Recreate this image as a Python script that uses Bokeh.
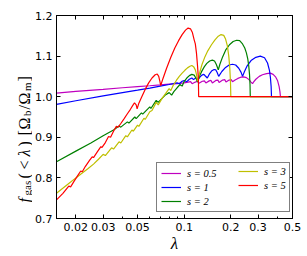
import math
from bokeh.plotting import figure
from bokeh.layouts import row
from bokeh.models import (FixedTicker, LinearAxis, LogAxis, Legend, LegendItem)
from bokeh.core.properties import value
from bokeh.embed import file_html
from bokeh.resources import INLINE

# ---------------- data ----------------
x_ticks = [0.02, 0.03, 0.05, 0.1, 0.2, 0.3, 0.5]
x_tick_labels = ["0.02", "0.03", "0.05", "0.1", "0.2", "0.3", "0.5"]
x_minor = [0.04, 0.06, 0.07, 0.08, 0.09, 0.4]
y_ticks = [0.7, 0.8, 0.9, 1.0, 1.1, 1.2]
y_tick_labels = ["0.7", "0.8", "0.9", "1.0", "1.1", "1.2"]
x_title = "λ"

series_labels = ["s = 0.5", "s = 1", "s = 2", "s = 3", "s = 5"]

lam_s05 = [0.015, 0.02, 0.03, 0.04, 0.05, 0.06, 0.07, 0.08, 0.09, 0.1,
           0.106, 0.11, 0.1125, 0.118, 0.122, 0.1245, 0.131, 0.135, 0.138, 0.145,
           0.149, 0.152, 0.16, 0.165, 0.168, 0.177, 0.183, 0.186, 0.195, 0.201,
           0.205, 0.213, 0.222, 0.232, 0.242, 0.252, 0.262, 0.27, 0.276, 0.28,
           0.29, 0.305, 0.32, 0.34, 0.36, 0.375, 0.39, 0.4, 0.41, 0.415,
           0.418, 0.5]
f_s05 = [1.009, 1.013, 1.018, 1.022, 1.025, 1.027, 1.029, 1.031, 1.032, 1.034,
         1.036, 1.037, 1.032, 1.036, 1.038, 1.033, 1.038, 1.039, 1.034, 1.039,
         1.040, 1.034, 1.040, 1.041, 1.035, 1.041, 1.042, 1.036, 1.041, 1.042,
         1.037, 1.041, 1.045, 1.048, 1.049, 1.047, 1.042, 1.036, 1.032, 1.036,
         1.043, 1.050, 1.054, 1.057, 1.058, 1.055, 1.048, 1.040, 1.025, 1.012,
         1.0, 1.0]

lam_s1 = [0.015, 0.02, 0.03, 0.04, 0.05, 0.06, 0.07, 0.08, 0.085, 0.09,
          0.093, 0.097, 0.1, 0.104, 0.108, 0.112, 0.115, 0.119, 0.122, 0.126,
          0.13, 0.134, 0.137, 0.141, 0.146, 0.151, 0.156, 0.16, 0.163, 0.167,
          0.175, 0.185, 0.195, 0.205, 0.215, 0.225, 0.233, 0.238, 0.245, 0.255,
          0.27, 0.29, 0.31, 0.33, 0.345, 0.355, 0.36, 0.364, 0.366, 0.5]
f_s1 = [0.981, 0.990, 1.002, 1.010, 1.016, 1.021, 1.026, 1.030, 1.032, 1.034,
        1.032, 1.038, 1.040, 1.037, 1.043, 1.046, 1.042, 1.047, 1.040, 1.048,
        1.053, 1.055, 1.051, 1.046, 1.057, 1.064, 1.067, 1.066, 1.060, 1.050,
        1.062, 1.072, 1.078, 1.080, 1.078, 1.070, 1.060, 1.050, 1.062, 1.076,
        1.089, 1.097, 1.100, 1.096, 1.083, 1.065, 1.048, 1.025, 1.0, 1.0]

lam_s2 = [0.015, 0.02, 0.025, 0.03, 0.035, 0.038, 0.039, 0.043, 0.044, 0.048,
          0.049, 0.053, 0.054, 0.06, 0.061, 0.066, 0.068, 0.072, 0.076, 0.08,
          0.083, 0.086, 0.09, 0.094, 0.097, 0.1, 0.104, 0.108, 0.112, 0.116,
          0.119, 0.122, 0.126, 0.13, 0.135, 0.14, 0.146, 0.152, 0.157, 0.161,
          0.164, 0.166, 0.17, 0.177, 0.186, 0.196, 0.207, 0.218, 0.228, 0.238,
          0.246, 0.252, 0.257, 0.261, 0.264, 0.266, 0.267, 0.5]
f_s2 = [0.840, 0.866, 0.886, 0.904, 0.918, 0.928, 0.925, 0.938, 0.935, 0.950,
        0.946, 0.960, 0.957, 0.975, 0.971, 0.991, 0.986, 0.996, 1.005, 1.010,
        1.004, 1.013, 1.022, 1.030, 1.026, 1.038, 1.046, 1.052, 1.055, 1.053,
        1.046, 1.036, 1.052, 1.063, 1.074, 1.082, 1.088, 1.090, 1.088, 1.080,
        1.072, 1.066, 1.080, 1.098, 1.116, 1.128, 1.136, 1.139, 1.138, 1.130,
        1.120, 1.108, 1.094, 1.076, 1.055, 1.030, 1.0, 1.0]

lam_s3 = [0.015, 0.018, 0.02, 0.022, 0.024, 0.026, 0.028, 0.03, 0.031, 0.034,
          0.035, 0.038, 0.039, 0.042, 0.043, 0.046, 0.047, 0.05, 0.051, 0.055,
          0.056, 0.06, 0.062, 0.066, 0.068, 0.072, 0.076, 0.08, 0.082, 0.085,
          0.089, 0.093, 0.097, 0.101, 0.105, 0.109, 0.112, 0.115, 0.118, 0.12,
          0.122, 0.126, 0.13, 0.136, 0.142, 0.15, 0.158, 0.166, 0.173, 0.18,
          0.185, 0.19, 0.194, 0.197, 0.199, 0.2, 0.5]
f_s3 = [0.762, 0.786, 0.800, 0.812, 0.823, 0.834, 0.846, 0.858, 0.855, 0.874,
        0.871, 0.889, 0.886, 0.904, 0.901, 0.918, 0.915, 0.930, 0.927, 0.947,
        0.944, 0.963, 0.966, 0.986, 0.980, 0.996, 1.008, 1.020, 1.015, 1.028,
        1.040, 1.050, 1.058, 1.065, 1.071, 1.075, 1.077, 1.074, 1.066, 1.055,
        1.038, 1.060, 1.078, 1.098, 1.113, 1.128, 1.140, 1.149, 1.153, 1.151,
        1.142, 1.125, 1.100, 1.070, 1.035, 1.0, 1.0]

lam_s5 = [0.015, 0.0165, 0.018, 0.0185, 0.0195, 0.0205, 0.0215, 0.022, 0.023, 0.0245,
          0.0255, 0.026, 0.0275, 0.029, 0.0295, 0.031, 0.0325, 0.0335, 0.035, 0.0365,
          0.0375, 0.039, 0.041, 0.043, 0.045, 0.0465, 0.0478, 0.049, 0.0497, 0.051,
          0.053, 0.056, 0.059, 0.062, 0.065, 0.067, 0.0685, 0.0697, 0.0705, 0.073,
          0.077, 0.082, 0.087, 0.092, 0.097, 0.102, 0.106, 0.11, 0.113, 0.116,
          0.118, 0.12, 0.122, 0.1235, 0.124, 0.5]
f_s5 = [0.746, 0.762, 0.780, 0.778, 0.792, 0.805, 0.817, 0.815, 0.828, 0.843,
        0.852, 0.850, 0.864, 0.877, 0.875, 0.887, 0.902, 0.900, 0.915, 0.927,
        0.925, 0.934, 0.946, 0.958, 0.969, 0.978, 0.985, 0.980, 0.970, 0.984,
        0.998, 1.018, 1.034, 1.046, 1.054, 1.056, 1.050, 1.038, 1.027, 1.045,
        1.070, 1.097, 1.120, 1.138, 1.153, 1.164, 1.169, 1.167, 1.158, 1.140,
        1.130, 1.108, 1.075, 1.045, 1.0, 1.0]

# y-axis title pieces: f_gas(<λ) [Ω_b/Ω_m]
ylab_text = ["f", "gas", "(", "<", "λ", ")", "[", "Ω", "b", "/", "Ω", "m", "]"]
ylab_kind = ["mi", "sub", "m", "m", "mi", "m", "m", "m", "sub", "m", "m", "sub", "m"]

# ---------------- style / layout ----------------
colors = ["#bf00bf", "#0000ff", "#008000", "#bfbf00", "#ff0000"]
SERIF = "Liberation Serif"
SANS = "DejaVu Sans"
LBL_W = 32  # width of the strip holding the y-axis title

p = figure(width=307 - LBL_W, height=256, x_axis_type="log",
           x_range=(0.015, 0.5), y_range=(0.7, 1.2),
           output_backend="svg", toolbar_location=None,
           min_border_left=55 - LBL_W, min_border_right=15,
           min_border_top=15, min_border_bottom=38)
p.background_fill_color = "white"
p.border_fill_color = "white"
p.outline_line_color = "black"
p.outline_line_width = 1
p.xgrid.grid_line_color = None
p.ygrid.grid_line_color = None

xt = FixedTicker(ticks=x_ticks, minor_ticks=x_minor)
yt = FixedTicker(ticks=y_ticks, minor_ticks=[])


def style_axis(ax, show_labels):
    ax.axis_line_color = "black"
    ax.major_tick_line_color = "black"
    ax.minor_tick_line_color = "black"
    ax.major_tick_in = 4
    ax.major_tick_out = 0
    ax.minor_tick_in = 2
    ax.minor_tick_out = 0
    if show_labels:
        ax.major_label_text_font = SANS
        ax.major_label_text_font_size = "11px"
        ax.major_label_text_color = "black"
        ax.major_label_standoff = 4
    else:
        ax.major_label_text_font_size = "0px"
        ax.major_label_text_color = None
        ax.major_label_standoff = 0


xa = p.xaxis[0]
xa.ticker = xt
xa.major_label_overrides = {t: s for t, s in zip(x_ticks, x_tick_labels)}
style_axis(xa, True)
xa.axis_label = x_title
xa.axis_label_text_font = SERIF
xa.axis_label_text_font_style = "italic"
xa.axis_label_text_font_size = "17px"
xa.axis_label_text_color = "black"
xa.axis_label_standoff = 0

ya = p.yaxis[0]
ya.ticker = yt
ya.major_label_overrides = {t: s for t, s in zip(y_ticks, y_tick_labels)}
style_axis(ya, True)

top = LogAxis(ticker=xt)
style_axis(top, False)
p.add_layout(top, "above")
right = LinearAxis(ticker=yt)
style_axis(right, False)
p.add_layout(right, "right")

renderers = []
for lam, f, c in zip([lam_s05, lam_s1, lam_s2, lam_s3, lam_s5],
                     [f_s05, f_s1, f_s2, f_s3, f_s5], colors):
    renderers.append(p.line(lam, f, line_color=c, line_width=1.2))


def make_legend(items, loc, lw, border):
    leg = Legend(items=items, location=loc)
    leg.padding = 4
    leg.spacing = 2
    leg.margin = 0
    leg.glyph_width = 20
    leg.glyph_height = 12
    leg.label_height = 12
    leg.label_standoff = 6
    leg.label_width = lw
    leg.label_text_font = SERIF
    leg.label_text_font_style = "italic"
    leg.label_text_font_size = "10.5px"
    leg.label_text_color = "black"
    if border:
        leg.border_line_color = "black"
        leg.border_line_width = 1
        leg.background_fill_color = "white"
        leg.background_fill_alpha = 1.0
    else:
        leg.border_line_color = None
        leg.background_fill_alpha = 0.0
    return leg


items = [LegendItem(label=lbl, renderers=[r]) for lbl, r in zip(series_labels, renderers)]
legA = make_legend(items[:3], (100, 6), 98, True)
legB = make_legend(items[3:], (182, 27), 20, False)
p.add_layout(legA)
p.add_layout(legB)

# ---------------- y-axis title strip (pixel-mapped figure) ----------------
lf = figure(frame_width=LBL_W, frame_height=256, x_range=(0, LBL_W), y_range=(0, 256),
            output_backend="svg", toolbar_location=None,
            x_axis_location=None, y_axis_location=None, title=None,
            min_border_left=0, min_border_right=0, min_border_top=0, min_border_bottom=0)
lf.outline_line_color = None
lf.background_fill_color = "white"
lf.border_fill_color = "white"
lf.grid.visible = False

ylab_off = [0, 7, 24, 33, 46, 56, 67, 73, 86.5, 93, 98, 111.5, 121]
y_start = 256 - 187
base_main = 23.5
for kind, size, style in [("m", "16px", "normal"), ("mi", "16px", "italic"),
                          ("sub", "11px", "normal")]:
    xs, ys, ts = [], [], []
    for t, k, o in zip(ylab_text, ylab_kind, ylab_off):
        if k == kind:
            xs.append(base_main + (2.5 if k == "sub" else 0))
            ys.append(y_start + o)
            ts.append(t)
    lf.text(x=xs, y=ys, text=ts, angle=math.pi / 2, text_align="left",
            text_baseline="alphabetic", text_font=value(SERIF),
            text_font_size=value(size), text_font_style=style, text_color="black")

layout = row(lf, p)
open("out.html", "w").write(file_html(layout, INLINE))
